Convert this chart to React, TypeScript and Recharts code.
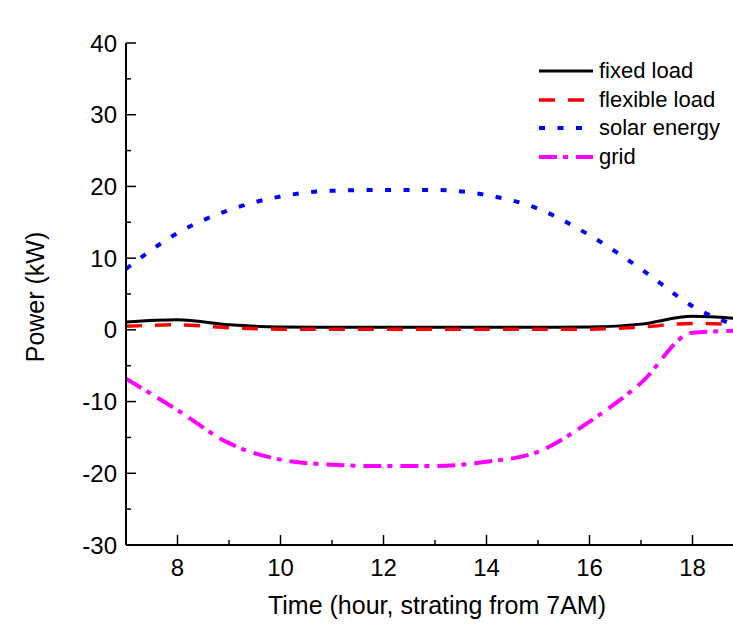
import { LineChart, Line, XAxis, YAxis } from "recharts";

const HOURS = [7, 8, 9, 10, 11, 12, 13, 14, 15, 16, 17, 18, 19];
const FIXED_LOAD = [1.1, 1.4, 0.7, 0.4, 0.35, 0.35, 0.35, 0.35, 0.35, 0.4, 0.8, 1.9, 1.5];
const FLEXIBLE_LOAD = [0.5, 0.7, 0.3, 0.1, 0.1, 0.1, 0.1, 0.1, 0.1, 0.1, 0.4, 0.9, 0.7];
const SOLAR = [8.5, 13.5, 16.7, 18.6, 19.4, 19.5, 19.5, 18.8, 16.9, 13.2, 8.5, 3.3, 0.2];
const GRID = [-6.8, -11.2, -15.8, -18.1, -18.8, -19.0, -19.0, -18.4, -17.0, -12.8, -7.4, -0.4, -0.1];

const X_TICKS = [7, 8, 9, 10, 11, 12, 13, 14, 15, 16, 17, 18, 19];
const Y_TICKS = [-30, -25, -20, -15, -10, -5, 0, 5, 10, 15, 20, 25, 30, 35, 40];

const SERIES = [
  { key: "fixed", name: "fixed load", color: "#000000", width: 3, dash: undefined as string | undefined },
  { key: "flexible", name: "flexible load", color: "#ff0000", width: 3.5, dash: "16 13" },
  { key: "solar", name: "solar energy", color: "#0000ff", width: 4, dash: "6 12.5" },
  { key: "grid", name: "grid", color: "#ff00ff", width: 4, dash: "18 6 5 8" },
];

const data = HOURS.map((h, i) => ({
  hour: h,
  fixed: FIXED_LOAD[i],
  flexible: FLEXIBLE_LOAD[i],
  solar: SOLAR[i],
  grid: GRID[i],
}));

const FONT = "'Liberation Sans', Arial, sans-serif";

function BottomTick({ x, y, payload }: any) {
  const major = payload.value % 2 === 0;
  return (
    <g>
      <line x1={x} x2={x} y1={y} y2={y - (major ? 10 : 5)} stroke="#000" strokeWidth={1.5} />
      {major && (
        <text x={x} y={y + 31} textAnchor="middle" fontSize={24} fontFamily={FONT} fill="#000">
          {payload.value}
        </text>
      )}
    </g>
  );
}

function TopTick({ x, y }: any) {
  return <line x1={x} x2={x} y1={y} y2={y + 3} stroke="#000" strokeWidth={1.5} />;
}

function LeftTick({ x, y, payload }: any) {
  const major = payload.value % 10 === 0;
  return (
    <g>
      <line x1={x} x2={x + (major ? 10 : 5)} y1={y} y2={y} stroke="#000" strokeWidth={1.5} />
      {major && (
        <text x={x - 9} y={y + 8.5} textAnchor="end" fontSize={24} fontFamily={FONT} fill="#000">
          {payload.value}
        </text>
      )}
    </g>
  );
}

function LegendBox() {
  return (
    <div style={{ position: "absolute", left: 539, top: 57, fontFamily: FONT, fontSize: 22, color: "#000" }}>
      {SERIES.map((s) => (
        <div key={s.key} style={{ display: "flex", alignItems: "center", height: 28.5 }}>
          <svg width={60} height={10} style={{ display: "block" }}>
            <line x1={0} x2={54} y1={5} y2={5} stroke={s.color} strokeWidth={s.width} strokeDasharray={s.dash} />
          </svg>
          <span style={{ lineHeight: "22px", whiteSpace: "nowrap" }}>{s.name}</span>
        </div>
      ))}
    </div>
  );
}

export default function App() {
  return (
    <div style={{ position: "absolute", left: 0, top: 0, width: 733, height: 624, overflow: "hidden", background: "#fff" }}>
      <LineChart width={760} height={624} data={data} margin={{ top: 43, right: 16, bottom: 0, left: 0 }}>
        <XAxis
          dataKey="hour"
          type="number"
          domain={[7, 19]}
          ticks={X_TICKS}
          allowDataOverflow
          height={79}
          tickSize={0}
          tickMargin={0}
          tickLine={false}
          axisLine={{ stroke: "#000", strokeWidth: 2 }}
          tick={<BottomTick />}
          interval={0}
          label={{
            content: () => (
              <text x={437} y={614} textAnchor="middle" fontSize={25} fontFamily={FONT} fill="#000">
                Time (hour, strating from 7AM)
              </text>
            ),
          }}
        />
        <XAxis
          xAxisId="top"
          dataKey="hour"
          type="number"
          orientation="top"
          domain={[7, 19]}
          ticks={X_TICKS}
          allowDataOverflow
          height={0}
          tickSize={0}
          tickMargin={0}
          tickLine={false}
          axisLine={{ stroke: "#000", strokeWidth: 2 }}
          tick={<TopTick />}
          interval={0}
        />
        <YAxis
          type="number"
          domain={[-30, 40]}
          ticks={Y_TICKS}
          allowDataOverflow
          width={126}
          tickSize={0}
          tickMargin={0}
          tickLine={false}
          axisLine={{ stroke: "#000", strokeWidth: 2 }}
          tick={<LeftTick />}
          interval={0}
          label={{
            content: () => (
              <text
                x={44}
                y={297}
                transform="rotate(-90 44 297)"
                textAnchor="middle"
                fontSize={25}
                fontFamily={FONT}
                fill="#000"
              >
                Power (kW)
              </text>
            ),
          }}
        />
        {SERIES.map((s) => (
          <Line
            key={s.key}
            dataKey={s.key}
            name={s.name}
            type="monotone"
            stroke={s.color}
            strokeWidth={s.width}
            strokeDasharray={s.dash}
            dot={false}
            activeDot={false}
            isAnimationActive={false}
          />
        ))}
      </LineChart>
      <LegendBox />
    </div>
  );
}
